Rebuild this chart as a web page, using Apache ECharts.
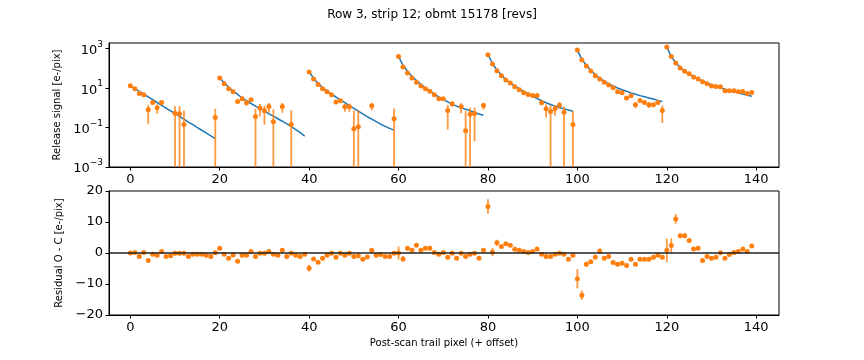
<!DOCTYPE html>
<html>
<head>
<meta charset="utf-8">
<script src="https://cdn.jsdelivr.net/npm/echarts@6/dist/echarts.min.js"></script>
<style>
  html, body { margin: 0; padding: 0; background: #fff; }
  #chart { width: 864px; height: 360px; }
</style>
</head>
<body>
<div id="chart"></div>
<script>
// 图表数据
var titleText = 'Row 3, strip 12; obmt 15178 [revs]';
var xTicks = [0, 20, 40, 60, 80, 100, 120, 140];
var logTicks = [0.001, 0.1, 10, 1000];
var segStarts = [0, 20, 40, 60, 80, 100, 120];
var segLength = 20;

// 观测释放信号，null 表示负值（对数轴上不画）
var signal = [
  13.1, 9.2, 5.3, 4.6, 0.80, 1.86, 1.0, 1.86, null, null, 0.54, 0.50, 0.145, null, null, null, null, null, null, 0.32,
  33, 16.5, 9.2, 6.5, 2.1, 2.9, 1.8, 2.6, 0.36, 0.97, 0.71, 1.17, 0.20, null, 1.17, null, 0.145, null, null, null,
  66, 29.5, 15.2, 9.2, 6.5, 4.6, 2.0, 2.3, 1.13, 1.13, 0.087, 0.11, null, null, 1.28, null, null, null, null, 0.28,
  400, 118, 59, 33, 20, 13, 9.2, 7.0, 4.6, 2.9, 2.9, 0.74, 1.6, null, 1.13, 0.069, 0.47, 0.52, null, 1.32,
  500, 170, 77, 43, 26, 18.5, 11.6, 8.2, 5.8, 4.8, 4.2, 4.2, 1.8, 0.9, 0.66, 0.9, 1.38, 0.60, null, 0.145,
  850, 270, 134, 74, 43, 29.5, 20, 14.6, 10.4, 6.5, 5.8, 3.2, 4.1, 1.44, 2.35, 1.86, 1.44, 1.44, 1.86, 0.74,
  1230, 400, 190, 106, 71, 53, 37, 29.5, 21, 16.5, 13, 12, 11.6, 7.3, 7.3, 7.3, 6.5, 6.7, 5.3, 6.0
];

// 模型曲线
var model = [
  13.1, 9.4, 6.8, 4.9, 3.6, 2.6, 1.87, 1.35, 0.98, 0.71, 0.51, 0.37, 0.27, 0.19, 0.14, 0.10, 0.073, 0.053, 0.038, 0.0275,
  33.1, 18.6, 11.1, 7.1, 4.8, 3.16, 2.34, 1.66, 1.23, 0.91, 0.68, 0.50, 0.38, 0.28, 0.21, 0.155, 0.112, 0.079, 0.055, 0.037,
  68, 31.6, 17.4, 10.7, 7.1, 4.9, 3.55, 2.51, 1.82, 1.29, 0.95, 0.68, 0.49, 0.355, 0.27, 0.20, 0.148, 0.115, 0.091, 0.074,
  398, 145, 72, 40, 24, 15.5, 10.2, 7.1, 5.0, 3.6, 2.7, 2.0, 1.55, 1.23, 1.0, 0.85, 0.71, 0.58, 0.49, 0.42,
  500, 178, 83, 46, 27, 17.8, 12.6, 9.1, 6.8, 5.1, 3.9, 2.95, 2.29, 1.82, 1.48, 1.23, 1.05, 0.89, 0.78, 0.68,
  851, 288, 145, 79, 48, 31.6, 22.4, 16.6, 12.9, 10.2, 8.3, 6.9, 5.75, 4.9, 4.17, 3.63, 3.16, 2.82, 2.40, 2.09,
  1230, 398, 195, 110, 72, 51, 38, 28.8, 22.9, 18.2, 14.8, 12.3, 10.5, 8.9, 7.6, 6.6, 5.75, 5.0, 4.4, 3.9
];

// 残差 O - C
var residual = [
  0, 0.2, -1.1, 0.2, -2.4, -0.4, -0.75, 0.5, -1.1, -0.85, -0.1, -0.1, -0.1, -1.1, -0.4, -0.4, -0.4, -0.75, -1.1, 0.1,
  1.5, -0.4, -1.7, -0.65, -2.7, -0.75, -0.75, 0.5, -1.1, -0.1, -0.1, 0.5, -0.4, -0.75, 0.85, -1.1, -0.1, -0.75, -1.1, -0.4,
  -4.9, -1.9, -3.0, -1.7, -0.75, -0.1, -1.4, -0.1, -0.75, -0.1, -1.1, -0.85, -2.0, -1.3, 0.85, -0.75, -0.5, -1.1, -1.1, -0.1,
  0, -1.9, 1.5, 0.85, 2.5, 0.85, 1.5, 1.5, 0.2, -0.4, 0.2, -1.4, -0.1, -1.7, -0.1, -1.1, -0.4, -0.1, -1.7, 0.85,
  15.0, 0.3, 3.3, 2.1, 3.0, 2.5, 1.2, 0.85, 0.5, 0.2, 0.5, 1.3, -0.4, -1.1, -1.1, -0.4, -0.1, -0.4, -2.0, -0.75,
  -8.3, -13.6, -3.6, -2.8, -1.4, 0.65, -1.7, -1.1, -3.1, -3.6, -3.3, -4.0, -2.0, -3.6, -2.0, -2.0, -2.0, -1.4, -0.75, -1.4,
  0.85, 2.4, 11.0, 5.6, 5.6, 4.0, 1.3, 1.5, -2.4, -1.1, -1.7, -1.4, 0.1, -1.7, -0.5, 0.2, 0.5, 1.3, 0.5, 2.25
];

// 误差（1 sigma）
var sigma = [
  0.35, 0.35, 0.35, 0.35, 0.65, 0.35, 0.5, 0.35, 0.35, 0.35, 0.68, 0.72, 0.6, 0.35, 0.35, 0.35, 0.35, 0.35, 0.35, 0.58,
  0.35, 0.35, 0.35, 0.35, 0.4, 0.35, 0.5, 0.35, 0.54, 0.6, 0.57, 0.6, 0.63, 0.35, 0.6, 0.35, 0.6, 0.35, 0.35, 0.35,
  1.1, 0.35, 0.35, 0.35, 0.35, 0.35, 0.35, 0.35, 0.5, 0.5, 0.65, 0.63, 0.35, 0.35, 0.53, 0.35, 0.35, 0.35, 0.35, 0.65,
  2.1, 0.9, 0.35, 0.35, 0.35, 0.35, 0.35, 0.35, 0.35, 0.35, 0.35, 0.66, 0.5, 0.35, 0.6, 0.61, 0.54, 0.5, 0.35, 0.5,
  2.3, 1.3, 1.0, 0.6, 0.35, 0.35, 0.35, 0.35, 0.35, 0.35, 0.35, 0.35, 0.35, 0.57, 0.7, 0.5, 0.5, 0.62, 0.35, 0.54,
  3.1, 1.5, 0.8, 0.6, 0.35, 0.7, 0.35, 0.35, 0.35, 0.35, 0.35, 0.35, 0.35, 0.45, 0.35, 0.35, 0.45, 0.35, 0.35, 0.57,
  3.8, 2.3, 1.6, 0.8, 0.8, 0.6, 0.35, 0.35, 0.35, 0.35, 0.35, 0.35, 0.35, 0.35, 0.35, 0.35, 0.35, 0.35, 0.35, 0.35
];

var blue = '#1f77b4';
var orange = '#ff7f0e';
var font = 'DejaVu Sans';
var logMin = 0.001;

// 组装数据
var sigPoints = [], sigErr = [], resPoints = [], resErr = [];
for (var i = 0; i < signal.length; i++) {
  if (signal[i] !== null) {
    sigPoints.push([i, signal[i]]);
    var lo = signal[i] - sigma[i];
    sigErr.push([i, lo > logMin ? lo : logMin, signal[i] + sigma[i]]);
  }
  resPoints.push([i, residual[i]]);
  resErr.push([i, residual[i] - sigma[i], residual[i] + sigma[i]]);
}

function errorBar(params, api) {
  var p1 = api.coord([api.value(0), api.value(1)]);
  var p2 = api.coord([api.value(0), api.value(2)]);
  return {
    type: 'line',
    shape: { x1: p1[0], y1: p1[1], x2: p2[0], y2: p2[1] },
    style: { stroke: orange, lineWidth: 1.8, opacity: 0.8 }
  };
}

function supLabel(v) {
  var e = Math.round(Math.log10(v));
  return '{b|10}{s|' + (e < 0 ? '\u2212' + (-e) : e) + '}';
}

var tickStyle = { length: 3.5, lineStyle: { color: '#000', width: 1 } };
var lineAxis = { show: true, onZero: false, lineStyle: { color: '#000', width: 1 } };
var labelBase = { color: '#000', fontFamily: font, fontSize: 13, margin: 6 };

function xAxisCfg(gridIndex, name) {
  return {
    gridIndex: gridIndex, type: 'value', min: -4.77, max: 145.1,
    name: name, nameLocation: 'middle', nameGap: 23,
    nameTextStyle: { color: '#000', fontFamily: font, fontSize: 10 },
    splitLine: { show: false }, axisLine: lineAxis,
    axisTick: Object.assign({ customValues: xTicks }, tickStyle),
    axisLabel: Object.assign({ customValues: xTicks }, labelBase)
  };
}

var series = [];
segStarts.forEach(function (s) {
  var d = [];
  for (var k = s; k < s + segLength; k++) d.push([k, model[k]]);
  series.push({
    type: 'line', xAxisIndex: 0, yAxisIndex: 0, data: d, symbol: 'none',
    lineStyle: { color: blue, width: 1.5 }, z: 2
  });
});
series.push({
  type: 'custom', xAxisIndex: 0, yAxisIndex: 0, data: sigErr, clip: true,
  renderItem: errorBar, encode: { x: 0, y: [1, 2] }, z: 3
});
series.push({
  type: 'scatter', xAxisIndex: 0, yAxisIndex: 0, data: sigPoints,
  symbolSize: 5, itemStyle: { color: orange, opacity: 1 }, z: 4
});
series.push({
  type: 'custom', xAxisIndex: 1, yAxisIndex: 1, data: resErr, clip: true,
  renderItem: errorBar, encode: { x: 0, y: [1, 2] }, z: 3
});
series.push({
  type: 'scatter', xAxisIndex: 1, yAxisIndex: 1, data: resPoints,
  symbolSize: 5, itemStyle: { color: orange, opacity: 1 }, z: 4,
  markLine: {
    silent: true, symbol: 'none', label: { show: false },
    lineStyle: { color: '#222', width: 1.5, type: 'solid' },
    data: [{ yAxis: 0 }]
  }
});

var chart = echarts.init(document.getElementById('chart'));
chart.setOption({
  animation: false,
  backgroundColor: '#fff',
  title: {
    text: titleText, left: 'center', top: 4,
    textStyle: { fontSize: 12, fontWeight: 'normal', color: '#000', fontFamily: font }
  },
  grid: [
    { left: 109, top: 43, width: 670, height: 124, show: true, borderColor: '#000', borderWidth: 1, outerBoundsMode: 'none' },
    { left: 109, top: 191, width: 670, height: 124, show: true, borderColor: '#000', borderWidth: 1, outerBoundsMode: 'none' }
  ],
  xAxis: [xAxisCfg(0, ''), xAxisCfg(1, 'Post-scan trail pixel (+ offset)')],
  yAxis: [
    {
      gridIndex: 0, type: 'log', logBase: 10, min: logMin, max: 1950,
      name: 'Release signal [e-/pix]', nameLocation: 'middle', nameGap: 47, nameRotate: 90,
      nameTextStyle: { color: '#000', fontFamily: font, fontSize: 10 },
      splitLine: { show: false }, minorTick: { show: false }, axisLine: lineAxis,
      axisTick: Object.assign({ customValues: logTicks }, tickStyle),
      axisLabel: {
        customValues: logTicks, formatter: supLabel, margin: 6,
        rich: {
          b: { color: '#000', fontFamily: font, fontSize: 13, verticalAlign: 'bottom' },
          s: { color: '#000', fontFamily: font, fontSize: 9, verticalAlign: 'bottom', padding: [0, 0, 8, 0] }
        }
      }
    },
    {
      gridIndex: 1, type: 'value', min: -20, max: 20, interval: 10,
      name: 'Residual O - C [e-/pix]', nameLocation: 'middle', nameGap: 42, nameRotate: 90,
      nameTextStyle: { color: '#000', fontFamily: font, fontSize: 10 },
      splitLine: { show: false }, axisLine: lineAxis,
      axisTick: tickStyle,
      axisLabel: Object.assign({ formatter: function (v) { return v < 0 ? '\u2212' + (-v) : '' + v; } }, labelBase)
    }
  ],
  series: series
});
</script>
</body>
</html>
